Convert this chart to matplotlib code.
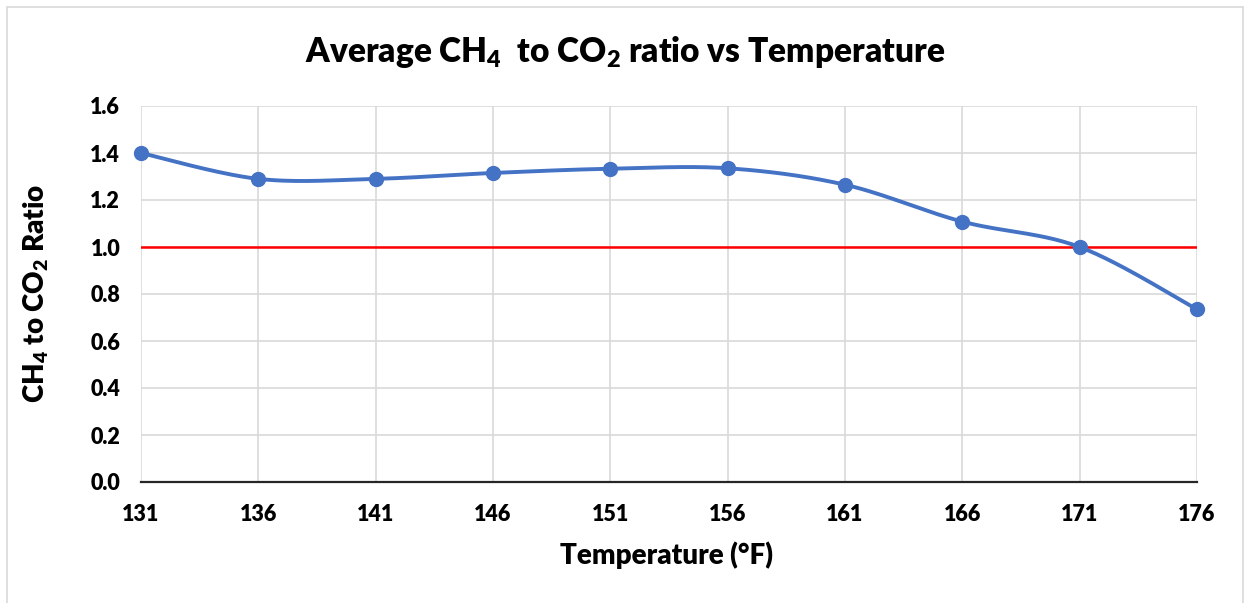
import numpy as np
import matplotlib
matplotlib.use("Agg")
import matplotlib.pyplot as plt
from matplotlib.patches import Rectangle

# data
temps = [131, 136, 141, 146, 151, 156, 161, 166, 171, 176]
ratio = [1.40, 1.29, 1.29, 1.315, 1.333, 1.335, 1.265, 1.108, 1.0, 0.735]
y_ticks = [0.0, 0.2, 0.4, 0.6, 0.8, 1.0, 1.2, 1.4, 1.6]
threshold = 1.0

FW = "heavy"
plt.rcParams["font.family"] = ["Lato", "DejaVu Sans"]
plt.rcParams["font.weight"] = FW
plt.rcParams["mathtext.fontset"] = "custom"
plt.rcParams["mathtext.rm"] = "Lato:heavy"
plt.rcParams["mathtext.it"] = "Lato:heavy"
plt.rcParams["mathtext.bf"] = "Lato:heavy"


def smooth(x, y, n=30, tension=1 / 6):
    """Excel-like smoothed line (cardinal spline through bezier segments)."""
    x = np.asarray(x, float)
    y = np.asarray(y, float)
    px = np.concatenate([[x[0]], x, [x[-1]]])
    py = np.concatenate([[y[0]], y, [y[-1]]])
    xs, ys = [], []
    t = np.linspace(0, 1, n)
    for i in range(1, len(px) - 2):
        p0 = np.array([px[i], py[i]])
        p3 = np.array([px[i + 1], py[i + 1]])
        c1 = p0 + tension * (p3 - np.array([px[i - 1], py[i - 1]]))
        c2 = p3 - tension * (np.array([px[i + 2], py[i + 2]]) - p0)
        b = ((1 - t) ** 3)[:, None] * p0 + (3 * (1 - t) ** 2 * t)[:, None] * c1 \
            + (3 * (1 - t) * t ** 2)[:, None] * c2 + (t ** 3)[:, None] * p3
        xs.append(b[:, 0])
        ys.append(b[:, 1])
    return np.concatenate(xs), np.concatenate(ys)


W, H = 1244, 603
fig = plt.figure(figsize=(W / 100, H / 100), dpi=100)
ax = fig.add_axes([141 / W, (H - 482) / H, (1197 - 141) / W, (482 - 106) / H])

# chart border
fig.patches.append(Rectangle((7 / W, -0.01), (1243 - 7) / W, (H - 7) / H + 0.01,
                             transform=fig.transFigure, fill=False,
                             edgecolor="#D9D9D9", linewidth=1.2))

sx, sy = smooth(temps, ratio)
ax.plot(sx, sy, color="#4472C4", linewidth=2.8, zorder=4,
        solid_capstyle="round", clip_on=False)
ax.plot(temps, ratio, "o", color="#4472C4", markersize=10, zorder=5, clip_on=False)
ax.axhline(threshold, color="#FF0000", linewidth=1.8, zorder=3)

ax.set_xlim(temps[0], temps[-1])
ax.set_ylim(0, 1.6)
ax.set_xticks(temps)
ax.set_yticks(y_ticks)
ax.set_yticklabels([f"{v:.1f}" for v in y_ticks])
ax.grid(True, color="#D9D9D9", linewidth=1.2)
ax.set_axisbelow(True)
for s in ["left", "right", "top"]:
    ax.spines[s].set_visible(False)
ax.spines["bottom"].set_color("#262626")
ax.spines["bottom"].set_linewidth(1.6)
ax.spines["bottom"].set_zorder(2)
ax.tick_params(length=0, labelsize=15.5, pad=16)
ax.tick_params(axis="y", pad=15)
for lab in ax.get_xticklabels() + ax.get_yticklabels():
    lab.set_fontweight(FW)

fig.text(625 / W, 1 - 52 / H, "Average CH$_4$  to CO$_2$ ratio vs Temperature",
         ha="center", va="center", fontsize=24, fontweight=FW)
fig.text(667 / W, 1 - 555 / H, "Temperature (°F)", ha="center", va="center",
         fontsize=20, fontweight=FW)
fig.text(36 / W, 1 - 293 / H, "CH$_4$ to CO$_2$ Ratio", ha="center", va="center",
         rotation=90, fontsize=20, fontweight=FW)

fig.savefig("out.png", dpi=100)
